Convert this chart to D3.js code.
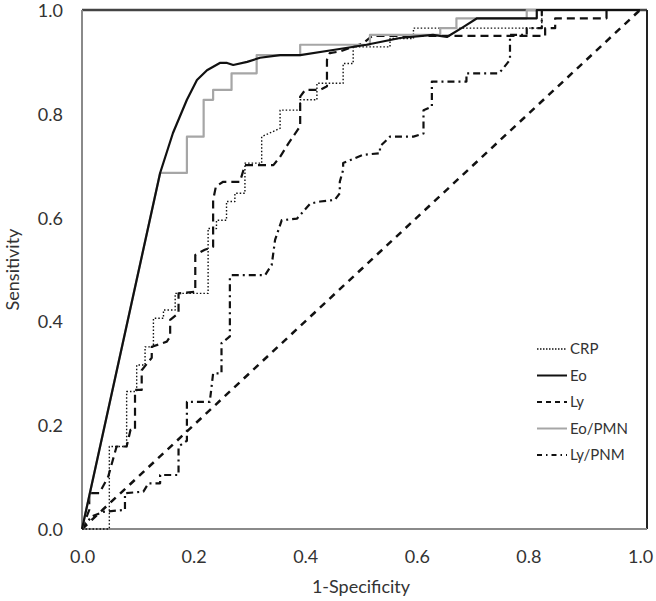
<!DOCTYPE html>
<html><head><meta charset="utf-8">
<script src="https://cdn.jsdelivr.net/npm/d3@7"></script>
<style>body{margin:0;background:#fff}svg{display:block}text{font-family:Lato,"Open Sans",sans-serif;fill:#333}</style>
</head><body><svg id="c" width="656" height="601"></svg>
<script>
const xTicks = [0, 0.2, 0.4, 0.6, 0.8, 1.0];
const yTicks = [0, 0.2, 0.4, 0.6, 0.8, 1.0];
const seriesNames = ["CRP", "Eo", "Ly", "Eo/PMN", "Ly/PNM"];

const crp = [[0,0],[0.049,0],[0.049,0.159],[0.08,0.159],[0.08,0.265],[0.098,0.265],[0.098,0.316],[0.113,0.316],[0.113,0.351],[0.128,0.351],[0.128,0.406],[0.146,0.406],[0.146,0.422],[0.167,0.422],[0.167,0.454],[0.226,0.454],[0.226,0.579],[0.241,0.579],[0.241,0.595],[0.259,0.595],[0.259,0.631],[0.274,0.631],[0.274,0.647],[0.292,0.647],[0.292,0.705],[0.322,0.705],[0.322,0.756],[0.355,0.772],[0.355,0.807],[0.391,0.807],[0.391,0.827],[0.421,0.827],[0.421,0.859],[0.468,0.859],[0.468,0.897],[0.486,0.897],[0.486,0.929],[0.552,0.929],[0.552,0.945],[0.594,0.945],[0.594,0.965],[0.824,0.965],[0.824,1.0],[1,1]];

const eo = [[0,0],[0.14,0.686],[0.163,0.763],[0.188,0.827],[0.206,0.865],[0.224,0.884],[0.247,0.898],[0.26,0.898],[0.271,0.894],[0.296,0.9],[0.319,0.908],[0.355,0.913],[0.391,0.913],[0.45,0.923],[0.51,0.933],[0.57,0.946],[0.629,0.952],[0.654,0.948],[0.683,0.967],[0.708,0.984],[0.815,0.984],[0.815,1.0],[1,1]];

const ly = [[0,0],[0.013,0.037],[0.013,0.069],[0.031,0.069],[0.047,0.101],[0.062,0.159],[0.08,0.159],[0.087,0.191],[0.095,0.191],[0.095,0.268],[0.107,0.268],[0.107,0.306],[0.125,0.33],[0.125,0.351],[0.152,0.361],[0.158,0.371],[0.158,0.403],[0.173,0.416],[0.173,0.454],[0.203,0.457],[0.203,0.528],[0.22,0.538],[0.235,0.544],[0.235,0.634],[0.24,0.66],[0.253,0.669],[0.283,0.669],[0.292,0.701],[0.343,0.701],[0.355,0.717],[0.37,0.743],[0.391,0.776],[0.391,0.833],[0.4,0.846],[0.427,0.846],[0.439,0.853],[0.439,0.904],[0.444,0.917],[0.462,0.92],[0.504,0.936],[0.52,0.95],[0.83,0.95],[0.83,0.965],[0.848,0.965],[0.848,0.984],[0.94,0.984],[0.94,1.0],[1,1]];

const eoPmn = [[0,0],[0.14,0.686],[0.188,0.686],[0.188,0.756],[0.218,0.756],[0.218,0.827],[0.235,0.827],[0.235,0.846],[0.268,0.846],[0.268,0.878],[0.313,0.878],[0.313,0.913],[0.391,0.913],[0.391,0.933],[0.516,0.933],[0.516,0.952],[0.642,0.952],[0.642,0.965],[0.671,0.965],[0.671,0.984],[0.797,0.984],[0.797,1.0],[1,1]];

const lyPnm = [[0,0],[0.017,0.024],[0.038,0.033],[0.077,0.037],[0.077,0.069],[0.11,0.072],[0.119,0.088],[0.14,0.088],[0.14,0.104],[0.173,0.104],[0.173,0.159],[0.188,0.17],[0.188,0.245],[0.229,0.245],[0.235,0.3],[0.25,0.3],[0.25,0.358],[0.265,0.371],[0.265,0.486],[0.268,0.489],[0.328,0.489],[0.34,0.509],[0.346,0.557],[0.358,0.595],[0.385,0.598],[0.391,0.605],[0.409,0.627],[0.427,0.631],[0.453,0.634],[0.462,0.647],[0.462,0.669],[0.468,0.692],[0.468,0.705],[0.504,0.721],[0.534,0.724],[0.534,0.737],[0.552,0.756],[0.594,0.756],[0.612,0.762],[0.612,0.807],[0.627,0.814],[0.627,0.862],[0.689,0.862],[0.689,0.878],[0.746,0.878],[0.752,0.884],[0.767,0.904],[0.767,0.952],[0.797,0.952],[0.797,0.965],[0.824,0.965],[0.824,1.0],[1,1]];

const refLine = [[0,0],[1,1]];

const svg = d3.select("#c");
const L = 82, R = 640, T = 10, B = 529;
const x = d3.scaleLinear().domain([0,1]).range([L,R]);
const y = d3.scaleLinear().domain([0,1]).range([B,T]);

// axes
const xAxis = d3.axisBottom(x).tickValues(xTicks).tickFormat(d3.format(".1f")).tickSize(0).tickPadding(0);
const gx = svg.append("g").attr("transform",`translate(0,${B})`).call(xAxis);
gx.select(".domain").remove();
gx.selectAll("text").attr("dy",null).attr("y",34).style("font-size","18px").style("font-family","Lato").attr("fill","#333");

const yAxis = d3.axisLeft(y).tickValues(yTicks).tickFormat(d3.format(".1f")).tickSize(0).tickPadding(0);
const gy = svg.append("g").attr("transform",`translate(63,0)`).call(yAxis);
gy.select(".domain").remove();
gy.selectAll("text").attr("dy","0.36em").attr("x",0).style("font-size","18px").style("font-family","Lato").attr("fill","#333");

// frame
svg.append("line").attr("x1",L).attr("x2",647).attr("y1",T).attr("y2",T).attr("stroke","#444").attr("stroke-width",2.5);
svg.append("line").attr("x1",647).attr("x2",647).attr("y1",T).attr("y2",B).attr("stroke","#222").attr("stroke-width",2);
svg.append("line").attr("x1",L).attr("x2",L).attr("y1",T).attr("y2",B).attr("stroke","#8a8a8a").attr("stroke-width",2);
svg.append("line").attr("x1",L).attr("x2",647).attr("y1",B).attr("y2",B).attr("stroke","#8a8a8a").attr("stroke-width",2);

const line = d3.line().x(d=>x(d[0])).y(d=>y(d[1]));
const styles = [
  {data: refLine, color:"#111", w:2.5, dash:"7,6"},
  {data: lyPnm, color:"#111", w:2.2, dash:"7,4,2,4"},
  {data: ly, color:"#111", w:2.2, dash:"8,5"},
  {data: crp, color:"#111", w:1.4, dash:"1.5,2"},
  {data: eoPmn, color:"#a6a6a6", w:2.2, dash:null},
  {data: eo, color:"#111", w:2.2, dash:null}
];
styles.forEach(s=>{
  svg.append("path").datum(s.data).attr("d",line).attr("fill","none")
    .attr("stroke",s.color).attr("stroke-width",s.w)
    .attr("stroke-dasharray",s.dash).attr("stroke-linejoin","round");
});

// legend
const legendStyles = [
  {color:"#111", w:1.4, dash:"1.5,1.5"},
  {color:"#111", w:2, dash:null},
  {color:"#111", w:2, dash:"5,4"},
  {color:"#a6a6a6", w:2, dash:null},
  {color:"#111", w:2, dash:"5,4,1.5,4"}
];
const ly0 = 349, lstep = 26.5;
seriesNames.forEach((n,i)=>{
  const yy = ly0 + i*lstep;
  svg.append("line").attr("x1",537).attr("x2",567).attr("y1",yy).attr("y2",yy)
    .attr("stroke",legendStyles[i].color).attr("stroke-width",legendStyles[i].w)
    .attr("stroke-dasharray",legendStyles[i].dash);
  svg.append("text").attr("x",570).attr("y",yy).attr("dy","0.36em").style("font-size","15px").text(n);
});

// titles
svg.append("text").attr("x",(L+R)/2).attr("y",593).attr("text-anchor","middle").style("font-size","18px").text("1-Specificity");
svg.append("text").attr("transform",`translate(19,${(T+B)/2}) rotate(-90)`).attr("text-anchor","middle").style("font-size","18px").text("Sensitivity");
</script></body></html>
